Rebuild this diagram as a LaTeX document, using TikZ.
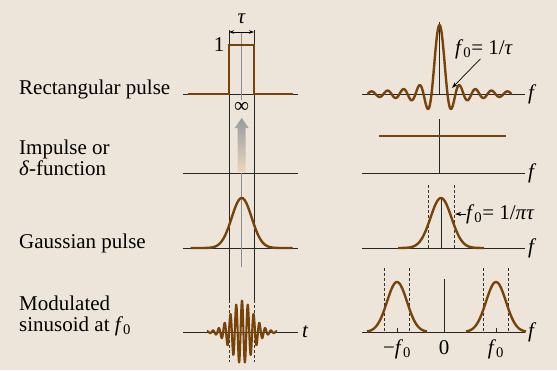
\documentclass[tikz,border=0pt]{standalone}
\usepackage{fontspec}
\setmainfont{Liberation Serif}
\usetikzlibrary{arrows.meta, positioning, calc}
\definecolor{bgc}{RGB}{238,229,218}
\definecolor{brn}{RGB}{118,68,10}
\definecolor{arrtop}{RGB}{150,155,160}
\definecolor{arrbot}{RGB}{234,214,190}
\tikzset{
  ax/.style  ={draw=black!85, line width=0.9pt},
  gd/.style  ={draw=black!85, line width=0.8pt},
  ctr/.style ={draw=black!45, line width=1.5pt},
  dsh/.style ={draw=black!80, line width=0.8pt, dash pattern=on 3pt off 2pt},
  crv/.style ={draw=brn, line width=2.4pt, line join=round},
  txt/.style ={font=\fontsize{21}{21}\selectfont, inner sep=0pt},
  fl/.style  ={-{Stealth[length=6pt, width=4pt]}, line width=0.7pt},
  fl2/.style ={{Stealth[length=5pt, width=3.5pt]}-{Stealth[length=5pt, width=3.5pt]}, line width=0.6pt},
}
\begin{document}
\begin{tikzpicture}[x=1pt, y=-1pt]
  \fill[bgc] (0,0) rectangle (557,370);
  \node[txt, anchor=base west] (rect) at (19,94) {Rectangular pulse};
  \node[txt, anchor=base west, align=left] (imp) at (19,175) {Impulse or\\\textit{δ}-function};
  \node[txt, anchor=base west] (gau) at (19,248) {Gaussian pulse};
  \node[txt, anchor=base west, align=left] (mod) at (19,331) {Modulated\\sinusoid at \textit{f}\textsubscript{0}};
  \foreach \y/\n in {94/a,173/b,248/c,332/d}{
    \draw[ax] (183,\y) -- (298,\y) coordinate (te\n);
    \draw[ax] (362,\y) -- (525,\y) coordinate (fe\n);
  }
  \node[txt, right=4pt of ted] (t) {\textit{t}};
  \foreach \n in {a,b,c,d} \node[txt, right=3pt of fe\n] (f\n) {\textit{f}};
  \coordinate (gl) at (229,32);
  \coordinate (gr) at (254,32);
  \draw[gd] (229,30) -- (229,300);
  \draw[gd] (254,30) -- (254,300);
  \draw[dsh] (229,300) -- (229,362);
  \draw[dsh] (254,300) -- (254,362);
  \draw[ctr] (241.7,32) -- (241.7,100);
  \draw[ctr] (241.7,173) -- (241.7,267);
  \draw[fl2] (gl) -- (gr);
  \node[txt] (tau) at (241.7,19) {\textit{τ}};
  \node[txt] (one) at (219,45) {1};
  \node[txt] (inf) at (241.7,107) {∞};
  \draw[crv, line join=miter] (188,94) -- (229,94) -- (229,45) -- (254,45) -- (254,94) -- (293,94);
  \shade[top color=arrtop, bottom color=arrbot] (237.7,172) -- (237.7,128) -- (234.7,128) -- (241.7,118)
    -- (248.7,128) -- (245.7,128) -- (245.7,172) -- cycle;
  \draw[crv] plot[domain=-51:51, samples=120] ({241.7+\x}, {248-50*exp(-\x*\x/200)});
  \draw[brn, line width=2.1pt, line join=round] plot[domain=-35:35, samples=600]
    ({242+\x}, {332-(29*exp(-\x*\x/220)+2.5*exp(-\x*\x/900))*cos(360*\x/5.8)});
  \draw[gd] (439.5,22) -- (439.5,94);
  \draw[crv] plot[domain=-72:72, samples=290] ({439.5+\x}, {94-69*sin(22.5*\x)/(0.3927*\x)});
  \node[txt] (fA) at (484,49) {\textit{f}\textsubscript{0}= 1/\textit{τ}};
  \coordinate (za) at (452,88);
  \draw[fl] (fA.250) -- (za);
  \draw[gd] (439.5,119) -- (439.5,173);
  \draw[crv] (379,136) -- (506,136);
  \draw[dsh] (428,185) -- (428,248);
  \draw[dsh] (454,185) -- (454,248);
  \draw[gd] (441,198) -- (441,248);
  \draw[crv] plot[domain=-43:43, samples=100] ({441+\x}, {248-50*exp(-\x*\x/220)});
  \node[txt, anchor=west] (fB) at (466,214) {\textit{f}\textsubscript{0}= 1/\textit{πτ}};
  \coordinate (zb) at (455,214);
  \draw[fl] (fB.west) -- (zb);
  \foreach \x in {384.5,409.5,483.5,508.5} \draw[dsh] (\x,268) -- (\x,332);
  \draw[gd] (444,279) -- (444,332);
  \draw[gd] (397,328) -- (397,332);
  \draw[gd] (496,328) -- (496,332);
  \draw[crv] plot[domain=-30:30, samples=80] ({397+\x}, {332-50*exp(-\x*\x/200)});
  \draw[crv] plot[domain=-30:30, samples=80] ({496+\x}, {332-50*exp(-\x*\x/200)});
  \node[txt, anchor=base] (mf) at (397,354) {−\textit{f}\textsubscript{0}};
  \node[txt, anchor=base] (zero) at (444,354) {0};
  \node[txt, anchor=base] (pf) at (496,354) {\textit{f}\textsubscript{0}};
\end{tikzpicture}
\end{document}
